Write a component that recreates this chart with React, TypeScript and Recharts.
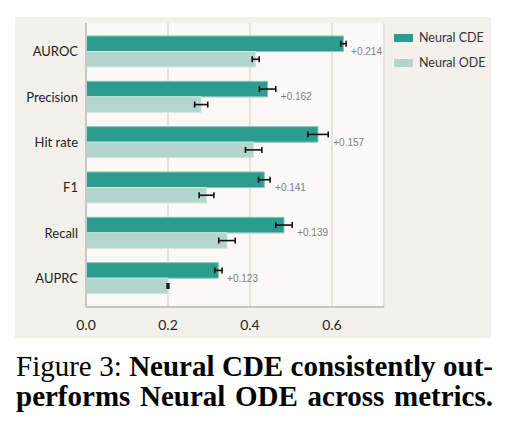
import React from "react";
import {
  BarChart,
  Bar,
  XAxis,
  YAxis,
  CartesianGrid,
  ErrorBar,
  LabelList,
  Legend,
} from "recharts";

const METRICS = ["AUROC", "Precision", "Hit rate", "F1", "Recall", "AUPRC"];
const CDE_SCORES = [0.628, 0.443, 0.566, 0.435, 0.483, 0.323];
const CDE_ERR = [0.0065, 0.02, 0.025, 0.014, 0.02, 0.009];
const ODE_SCORES = [0.414, 0.281, 0.409, 0.294, 0.344, 0.2];
const ODE_ERR = [0.0085, 0.016, 0.02, 0.018, 0.02, 0.002];
const X_TICKS = [0, 0.2, 0.4, 0.6];

const CDE_COLOR = "#2a9d8f";
const ODE_COLOR = "#b3d5cc";

const rows = METRICS.map((metric, i) => ({
  metric,
  cde: CDE_SCORES[i],
  cdeErr: CDE_ERR[i],
  ode: ODE_SCORES[i],
  odeErr: ODE_ERR[i],
  gain: CDE_SCORES[i] - ODE_SCORES[i],
}));

// "+0.214" style note placed just past the CDE error bar
function GainLabel(props: any) {
  const { x, y, width, height, index } = props;
  const row = rows[index];
  const pxPerUnit = width / row.cde;
  const tx = x + width + row.cdeErr * pxPerUnit + 5;
  const ty = y + height;
  return (
    <text
      x={tx}
      y={ty}
      dy="0.35em"
      fill="#808080"
      fontSize={10}
      fontFamily="'Liberation Sans', Arial, sans-serif"
    >
      +{row.gain.toFixed(3)}
    </text>
  );
}

function LegendBox(props: any) {
  const items = props.payload || [];
  return (
    <div style={{ fontFamily: "Lato, sans-serif", fontSize: 12.5, color: "#333" }}>
      {items.map((it: any) => (
        <div
          key={it.value}
          style={{ display: "flex", alignItems: "center", height: 25 }}
        >
          <span
            style={{
              display: "inline-block",
              width: 19,
              height: 8,
              background: it.color,
              marginRight: 6,
            }}
          />
          {it.value}
        </div>
      ))}
    </div>
  );
}

export default function App() {
  return (
    <div
      style={{
        position: "absolute",
        left: 0,
        top: 0,
        width: 511,
        height: 438,
        background: "#ffffff",
      }}
    >
      <div
        style={{
          position: "absolute",
          left: 15,
          top: 17,
          width: 476,
          height: 321,
          background: "#f4f1ec",
        }}
      >
        <BarChart
          width={476}
          height={321}
          data={rows}
          layout="vertical"
          margin={{ top: 6, right: 107, bottom: 0, left: 0 }}
          barGap={0}
          barSize={15.5}
        >
          <CartesianGrid
            horizontal={false}
            fill="#faf9f6"
            stroke="#e6e3de"
            strokeWidth={2}
          />
          <XAxis
            type="number"
            domain={[0, 0.727]}
            ticks={X_TICKS}
            tickFormatter={(v: number) => v.toFixed(1)}
            height={31}
            tickLine={false}
            tickMargin={7}
            axisLine={{ stroke: "#c6c6c4", strokeWidth: 2 }}
            tick={{ fill: "#222", fontSize: 14, fontFamily: "Lato, sans-serif" }}
            allowDataOverflow
          />
          <XAxis
            xAxisId="top"
            orientation="top"
            type="number"
            domain={[0, 0.727]}
            height={0}
            tick={false}
            tickLine={false}
            axisLine={{ stroke: "#c6c6c4", strokeWidth: 2 }}
          />
          <YAxis
            type="category"
            dataKey="metric"
            width={71}
            padding={{ top: 6, bottom: 6 }}
            tickLine={false}
            axisLine={{ stroke: "#c6c6c4", strokeWidth: 2 }}
            tick={{ fill: "#222", fontSize: 13, fontFamily: "Lato, sans-serif" }}
          />
          <YAxis
            yAxisId="right"
            orientation="right"
            type="category"
            dataKey="metric"
            width={0}
            tick={false}
            tickLine={false}
            axisLine={{ stroke: "#c6c6c4", strokeWidth: 2 }}
          />
          <Legend
            layout="vertical"
            align="center"
            verticalAlign="middle"
            content={<LegendBox />}
            wrapperStyle={{ left: 379, top: 8, width: 100 }}
          />
          <Bar
            dataKey="cde"
            name="Neural CDE"
            fill={CDE_COLOR}
            stroke="#86c6bb"
            strokeWidth={1}
            isAnimationActive={false}
          >
            <ErrorBar
              dataKey="cdeErr"
              direction="x"
              width={3}
              stroke="#111"
              strokeWidth={1.6}
            />
            <LabelList dataKey="cde" content={<GainLabel />} />
          </Bar>
          <Bar
            dataKey="ode"
            name="Neural ODE"
            fill={ODE_COLOR}
            stroke="#d2e7e1"
            strokeWidth={1}
            isAnimationActive={false}
          >
            <ErrorBar
              dataKey="odeErr"
              direction="x"
              width={3}
              stroke="#111"
              strokeWidth={1.6}
            />
          </Bar>
        </BarChart>
      </div>
      <div
        style={{
          position: "absolute",
          left: 16,
          top: 352,
          width: 477,
          fontFamily: "'Liberation Serif', 'Times New Roman', serif",
          fontSize: 29,
          lineHeight: "29.5px",
          color: "#000",
        }}
      >
        <div style={{ textAlign: "justify", textAlignLast: "justify" }}>
          Figure 3: <b>Neural CDE consistently out-</b>
        </div>
        <div style={{ textAlign: "justify", textAlignLast: "justify" }}>
          <b>performs Neural ODE across metrics.</b>
        </div>
      </div>
    </div>
  );
}
